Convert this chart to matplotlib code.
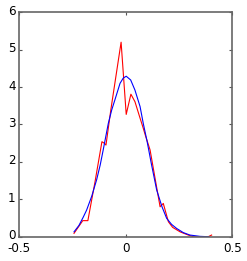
import matplotlib
matplotlib.use('Agg')
import matplotlib.pyplot as plt
import matplotlib.transforms as mtransforms

# histogram estimate (red)
red_x = [-0.243, -0.202, -0.178, -0.145, -0.112, -0.101, -0.093, -0.07, -0.022,
         0.002, 0.024, 0.043, 0.067, 0.082, 0.093, 0.114, 0.161, 0.176, 0.2,
         0.22, 0.255, 0.293, 0.317, 0.387, 0.403]
red_y = [0.09, 0.43, 0.43, 1.45, 2.54, 2.50, 2.45, 3.4, 5.2,
         3.27, 3.81, 3.61, 3.17, 2.9, 2.69, 2.32, 0.8, 0.89, 0.40,
         0.25, 0.13, 0.045, 0.0, 0.0, 0.045]

# smooth density (blue)
blue_x = [-0.243, -0.22, -0.2, -0.184, -0.16, -0.137, -0.12, -0.106, -0.082,
          -0.066, -0.051, -0.027, -0.012, 0.002, 0.023, 0.043, 0.067, 0.082,
          0.1, 0.12, 0.145, 0.17, 0.192, 0.215, 0.239, 0.27, 0.301, 0.348, 0.39]
blue_y = [0.13, 0.3, 0.52, 0.71, 1.08, 1.52, 1.92, 2.32, 3.03,
          3.39, 3.66, 4.10, 4.24, 4.29, 4.19, 3.92, 3.48, 3.03,
          2.55, 1.95, 1.25, 0.8, 0.49, 0.33, 0.22, 0.11, 0.045, 0.01, 0.0]

xticks = [-0.5, 0, 0.5]
xlabels = ['-0.5', '0', '0.5']
yticks = [0, 1, 2, 3, 4, 5, 6]

plt.rcParams['font.family'] = ['DejaVu Sans']
plt.rcParams['axes.unicode_minus'] = False

fig = plt.figure(figsize=(2.47, 2.61), dpi=100)
ax = fig.add_axes([0.078, 0.093, 0.8625, 0.86])

ax.plot(red_x, red_y, color='r', lw=0.8)
ax.plot(blue_x, blue_y, color='b', lw=0.8)

ax.set_xlim(-0.5, 0.5)
ax.set_ylim(0, 6)
ax.set_xticks(xticks)
ax.set_xticklabels(xlabels)
ax.set_yticks(yticks)
ax.tick_params(direction='in', length=2.5, width=0.8, labelsize=8.6,
               top=True, right=True, pad=2.5, color='#555555')
ax.tick_params(axis='x', pad=3.6)
for s in ax.spines.values():
    s.set_linewidth(1.2)
    s.set_color('#666666')

# y labels sit a touch higher in the reference
up = mtransforms.ScaledTranslation(0, 2.5 / 100, fig.dpi_scale_trans)
for lab in ax.get_yticklabels():
    lab.set_transform(lab.get_transform() + up)

fig.savefig('out.png', dpi=100)
